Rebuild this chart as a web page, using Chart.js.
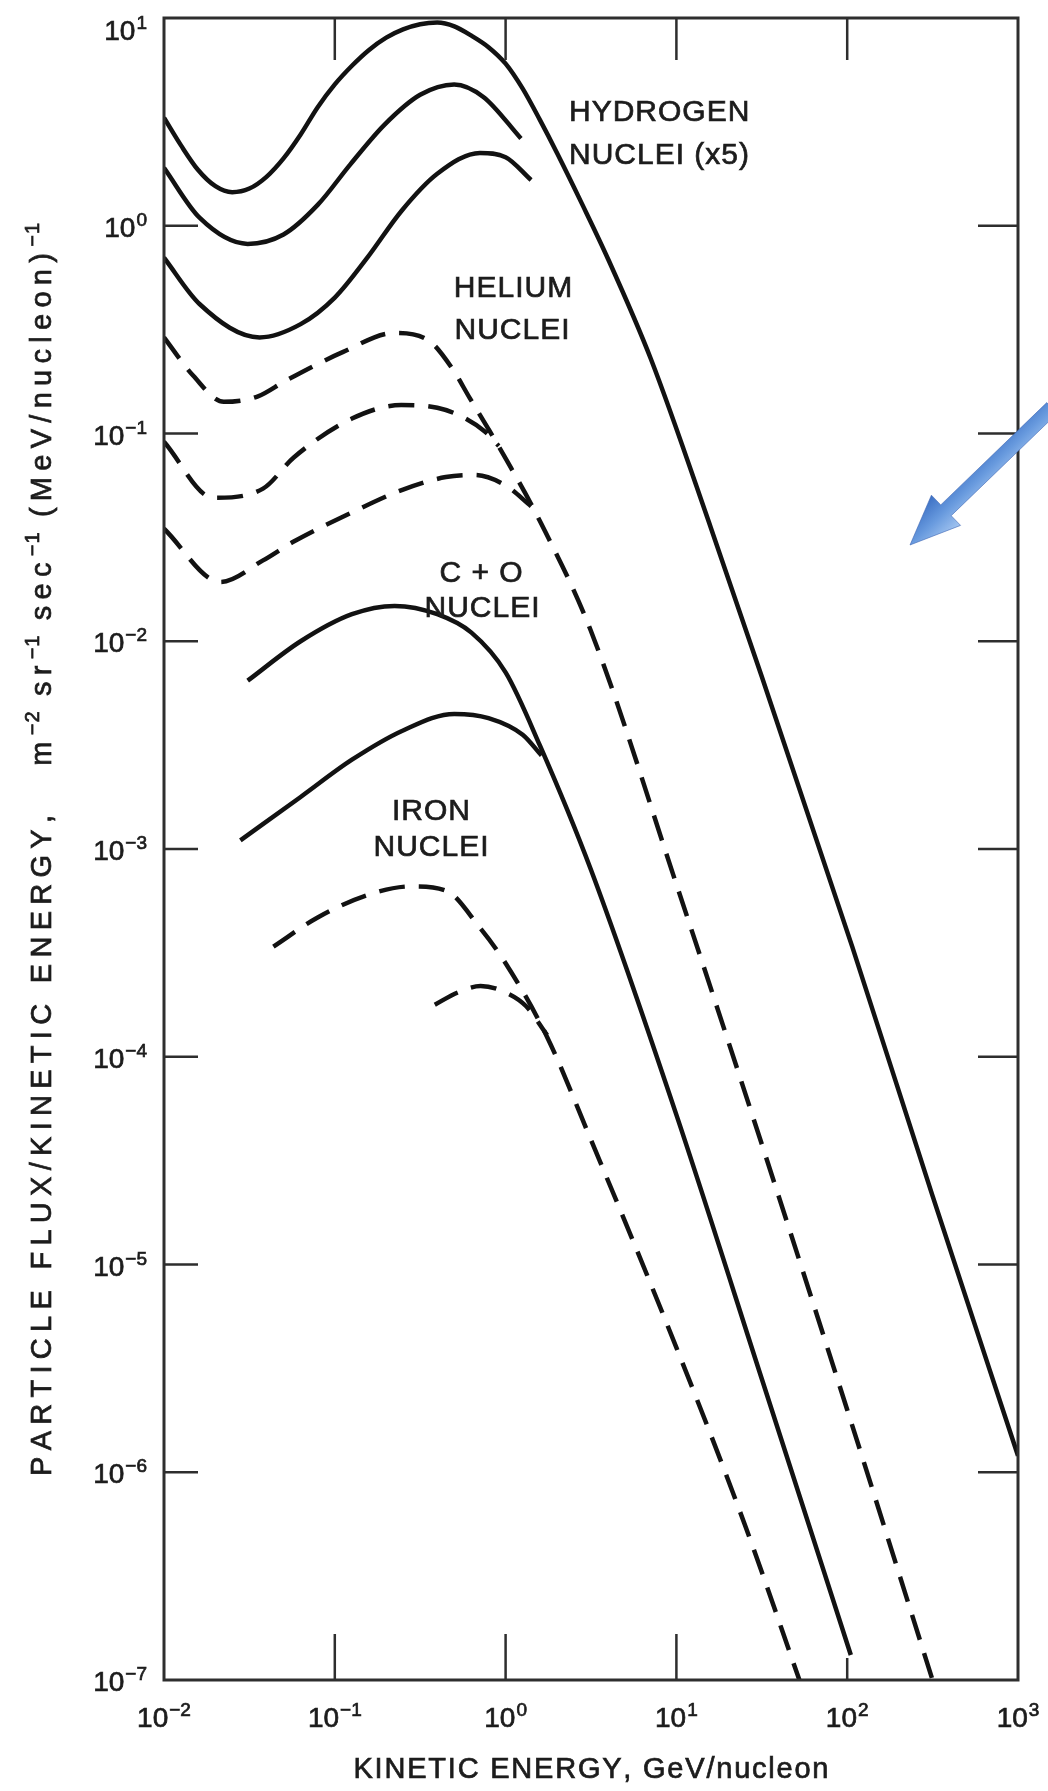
<!DOCTYPE html>
<html>
<head>
<meta charset="utf-8">
<title>Particle flux vs kinetic energy</title>
<script src="https://cdn.jsdelivr.net/npm/chart.js@4.4.1/dist/chart.umd.min.js"></script>
<style>
html,body{margin:0;padding:0;background:#ffffff;}
#wrap{position:relative;width:1048px;height:1791px;}
canvas{display:block;}
</style>
</head>
<body>
<div id="wrap"><canvas id="chart" width="1048" height="1791"></canvas></div>
<script>
// ---------- tick labels (powers of ten) ----------
const xTickExponents = [-2, -1, 0, 1, 2, 3];
const yTickExponents = [1, 0, -1, -2, -3, -4, -5, -6, -7];
const xInnerTickExponents = [-1, 0, 1, 2];
const yInnerTickExponents = [0, -1, -2, -3, -4, -5, -6];

// ---------- texts ----------
const xAxisTitle = 'KINETIC ENERGY, GeV/nucleon';
// [text, isSuperscript]
const yAxisTitleParts = [['PARTICLE FLUX/KINETIC ENERGY,   m', false], ['\u22122', true], [' sr', false], ['\u22121', true], [' sec', false], ['\u22121', true], [' (MeV/nucleon)', false], ['\u22121', true]];
const hydrogenLabel = ['HYDROGEN', 'NUCLEI (x5)'];
const heliumLabel = ['HELIUM', 'NUCLEI'];
const carbonOxygenLabel = ['C + O', 'NUCLEI'];
const ironLabel = ['IRON', 'NUCLEI'];

// ---------- data: kinetic energy (GeV/nucleon) and flux ----------
// Hydrogen nuclei (x5) - solid
const hydrogen1Energy = [0.01, 0.0126, 0.0158, 0.02, 0.0251, 0.0316, 0.0398, 0.0501, 0.0631, 0.0794, 0.1, 0.126, 0.158, 0.2, 0.251, 0.316, 0.398, 0.501, 0.631, 0.794, 1.0, 1.259, 1.585, 2.0, 2.82, 3.98, 7.08, 15.85, 31.6, 107, 316, 1000];
const hydrogen1Flux   = [3.31, 2.43, 1.86, 1.55, 1.45, 1.51, 1.72, 2.11, 2.75, 3.72, 4.79, 5.89, 7.0, 8.04, 8.81, 9.33, 9.51, 9.12, 8.22, 7.24, 6.03, 4.57, 3.24, 2.24, 1.26, 0.692, 0.229, 0.0355, 0.00676, 3.39e-4, 2.14e-5, 1.20e-6];
const hydrogen2Energy = [0.01, 0.0162, 0.0309, 0.0501, 0.0794, 0.123, 0.195, 0.316, 0.50, 0.741, 1.23];
const hydrogen2Flux   = [1.90, 1.09, 0.818, 0.908, 1.26, 1.97, 3.06, 4.27, 4.79, 4.17, 2.63];
const hydrogen3Energy = [0.01, 0.0162, 0.0363, 0.0631, 0.1, 0.155, 0.245, 0.398, 0.708, 1.0, 1.41];
const hydrogen3Flux   = [0.702, 0.419, 0.29, 0.336, 0.451, 0.702, 1.175, 1.778, 2.239, 2.138, 1.66];
// Helium nuclei - dashed
const helium1Energy = [0.01, 0.0148, 0.0224, 0.0355, 0.0513, 0.112, 0.224, 0.355, 0.49, 0.617, 0.794, 1.0, 1.585, 3.16, 10, 31.6, 100, 316];
const helium1Flux   = [0.29, 0.19, 0.142, 0.151, 0.179, 0.247, 0.305, 0.28, 0.204, 0.148, 0.105, 0.0759, 0.038, 0.0112, 6.76e-4, 3.80e-5, 2.0e-6, 1.0e-7];
const helium2Energy = [0.01, 0.0195, 0.038, 0.0575, 0.126, 0.245, 0.398, 0.562, 0.759, 0.912];
const helium2Flux   = [0.0912, 0.049, 0.0543, 0.0767, 0.118, 0.137, 0.133, 0.12, 0.102, 0.0871];
const helium3Energy = [0.01, 0.0214, 0.038, 0.0575, 0.126, 0.251, 0.447, 0.661, 1.0, 1.41];
const helium3Flux   = [0.0348, 0.0193, 0.0245, 0.0302, 0.0417, 0.0537, 0.0617, 0.0631, 0.0562, 0.0447];
// C + O nuclei - solid
const carbonOxygen1Energy = [0.0309, 0.0631, 0.126, 0.224, 0.398, 0.631, 1.0, 1.585, 3.16, 10, 31.6, 105];
const carbonOxygen1Flux   = [6.46e-3, 0.01, 0.0135, 0.0148, 0.0135, 0.011, 7.08e-3, 3.16e-3, 7.94e-4, 5.25e-5, 2.82e-6, 1.32e-7];
const carbonOxygen2Energy = [0.028, 0.0631, 0.126, 0.251, 0.501, 0.794, 1.259, 1.622];
const carbonOxygen2Flux   = [1.10e-3, 1.78e-3, 2.69e-3, 3.72e-3, 4.47e-3, 4.27e-3, 3.55e-3, 2.82e-3];
// Iron nuclei - dashed
const iron1Energy = [0.0437, 0.0794, 0.158, 0.282, 0.447, 0.708, 1.0, 1.738, 3.16, 10, 25.1, 52.5];
const iron1Flux   = [3.39e-4, 4.68e-4, 6.03e-4, 6.61e-4, 6.31e-4, 4.17e-4, 2.82e-4, 1.26e-4, 3.98e-5, 3.98e-6, 5.62e-7, 1.0e-7];
const iron2Energy = [0.385, 0.525, 0.714, 1.0, 1.32, 1.75];
const iron2Flux   = [1.78e-4, 2.04e-4, 2.19e-4, 2.04e-4, 1.75e-4, 1.27e-4];

// ---------- helpers ----------
const INK = '#121212';
const TEXT = '#1c1c1c';
const FONT = "'Liberation Sans', Arial, Helvetica, sans-serif";

function series(label, E, F, dashed) {
  return {
    label: label,
    data: E.map((e, i) => ({x: e, y: F[i]})),
    showLine: true,
    borderColor: INK,
    backgroundColor: INK,
    borderWidth: 4.5,
    borderDash: dashed ? [26, 14] : [],
    borderCapStyle: 'butt',
    borderJoinStyle: 'round',
    pointRadius: 0,
    pointHoverRadius: 0,
    fill: false,
    cubicInterpolationMode: 'monotone'
  };
}

function inkText(ctx, t, x, y) {
  ctx.fillText(t, x, y);
  ctx.strokeText(t, x, y);
}
// width of text when every character is followed by `sp` extra pixels
function spacedWidth(ctx, t, sp) {
  let w = 0;
  for (const c of t) w += ctx.measureText(c).width + sp;
  return w;
}
// draws text left-aligned, character by character, returns the end x
function spacedText(ctx, t, x, y, sp) {
  ctx.textAlign = 'left';
  for (const c of t) {
    inkText(ctx, c, x, y);
    x += ctx.measureText(c).width + sp;
  }
  return x;
}

// "10" with a raised exponent; y is the baseline of "10"
function drawPower(ctx, e, x, y, align) {
  const base = '10';
  const ex = String(e).replace('-', '\u2212');
  ctx.font = '28px ' + FONT;
  const wb = ctx.measureText(base).width;
  ctx.font = '19px ' + FONT;
  const we = ctx.measureText(ex).width;
  const total = wb + 1 + we;
  const x0 = align === 'right' ? x - total : x - total / 2;
  ctx.textAlign = 'left';
  ctx.textBaseline = 'alphabetic';
  ctx.font = '28px ' + FONT;
  inkText(ctx, base, x0, y);
  ctx.font = '19px ' + FONT;
  inkText(ctx, ex, x0 + wb + 1, y - 11);
}

function drawArrow(ctx, x1, y1, x2, y2) {
  const dx = x2 - x1, dy = y2 - y1, L = Math.hypot(dx, dy);
  const ux = dx / L, uy = dy / L, px = -uy, py = ux;
  const hw = 7.5, HW = 21, HL = 50;
  const bx = x2 - ux * HL, by = y2 - uy * HL;
  ctx.save();
  const g = ctx.createLinearGradient(bx + px * HW, by + py * HW, bx - px * HW, by - py * HW);
  g.addColorStop(0, '#3c70c4');
  g.addColorStop(0.5, '#689ade');
  g.addColorStop(1, '#a3c5f0');
  ctx.fillStyle = g;
  ctx.beginPath();
  ctx.moveTo(x1 + px * hw, y1 + py * hw);
  ctx.lineTo(bx + px * hw, by + py * hw);
  ctx.lineTo(bx + px * HW, by + py * HW);
  ctx.lineTo(x2, y2);
  ctx.lineTo(bx - px * HW, by - py * HW);
  ctx.lineTo(bx - px * hw, by - py * hw);
  ctx.lineTo(x1 - px * hw, y1 - py * hw);
  ctx.closePath();
  ctx.fill();
  ctx.strokeStyle = 'rgba(55,95,175,0.55)';
  ctx.lineWidth = 1;
  ctx.stroke();
  ctx.restore();
}

// ---------- decoration plugin: frame, inner ticks, labels, titles, arrow ----------
const decorPlugin = {
  id: 'decor',
  afterDraw(chart) {
    const ctx = chart.ctx;
    const xs = chart.scales.x, ys = chart.scales.y;
    const a = chart.chartArea;
    ctx.save();
    ctx.setLineDash([]);
    // frame
    ctx.strokeStyle = '#2e2e2e';
    ctx.lineWidth = 3;
    ctx.strokeRect(a.left, a.top, a.right - a.left, a.bottom - a.top);
    // inner ticks
    ctx.lineWidth = 2.5;
    ctx.beginPath();
    xInnerTickExponents.forEach(e => {
      const px = xs.getPixelForValue(Math.pow(10, e));
      ctx.moveTo(px, a.bottom); ctx.lineTo(px, a.bottom - (e === 2 ? 22 : 46));
      ctx.moveTo(px, a.top); ctx.lineTo(px, a.top + 42);
    });
    yInnerTickExponents.forEach(e => {
      const py = ys.getPixelForValue(Math.pow(10, e));
      ctx.moveTo(a.left, py); ctx.lineTo(a.left + 34, py);
      ctx.moveTo(a.right, py); ctx.lineTo(a.right - 40, py);
    });
    ctx.stroke();

    // tick labels
    ctx.fillStyle = TEXT;
    ctx.strokeStyle = TEXT;
    ctx.lineWidth = 0.7;
    ys.ticks.forEach(t => {
      const py = ys.getPixelForValue(t.value);
      drawPower(ctx, Math.round(Math.log10(t.value)), a.left - 17, Math.max(py + 11, a.top + 22), 'right');
    });
    xs.ticks.forEach(t => {
      const px = xs.getPixelForValue(t.value);
      drawPower(ctx, Math.round(Math.log10(t.value)), px, 1727, 'center');
    });

    // curve labels
    ctx.textBaseline = 'middle';
    ctx.font = '30px ' + FONT;
    const lab = (t, x, y, center) => {
      const w = spacedWidth(ctx, t, 1) - 1;
      spacedText(ctx, t, center ? x - w / 2 : x, y, 1);
    };
    lab(hydrogenLabel[0], 569, 113, false);
    lab(hydrogenLabel[1], 569, 156, false);
    lab(heliumLabel[0], 513, 289, true);
    lab(heliumLabel[1], 512, 331, true);
    lab(carbonOxygenLabel[0], 481, 574, true);
    lab(carbonOxygenLabel[1], 482, 609, true);
    lab(ironLabel[0], 431, 812, true);
    lab(ironLabel[1], 431, 848, true);

    // x axis title, fitted to the width it takes in the figure (475 px)
    ctx.font = '29px ' + FONT;
    ctx.textBaseline = 'middle';
    const natX = spacedWidth(ctx, xAxisTitle, 0);
    const spX = Math.max(0, (475 - natX) / (xAxisTitle.length - 1));
    const wX = natX + spX * (xAxisTitle.length - 1);
    spacedText(ctx, xAxisTitle, (a.left + a.right) / 2 - wX / 2, 1770, spX);

    // y axis title (rotated, with superscripts), fitted to its length in the figure (1254 px)
    const big = '29px ' + FONT, small = '20px ' + FONT;
    const supSp = 1;
    let natural = 0, nChars = 0;
    yAxisTitleParts.forEach(([t, sup]) => {
      ctx.font = sup ? small : big;
      natural += spacedWidth(ctx, t, sup ? supSp : 0);
      if (!sup) nChars += t.length;
    });
    const sp = Math.max(0, (1254 - natural) / nChars);
    const total = natural + sp * nChars;
    ctx.save();
    ctx.translate(51, (a.top + a.bottom) / 2);
    ctx.rotate(-Math.PI / 2);
    ctx.textBaseline = 'alphabetic';
    let cx = -total / 2;
    yAxisTitleParts.forEach(([t, sup]) => {
      ctx.font = sup ? small : big;
      cx = spacedText(ctx, t, cx, sup ? -12 : 0, sup ? supSp : sp);
    });
    ctx.restore();
    ctx.restore();

    // blue arrow annotation
    drawArrow(ctx, 1052, 408, 910, 545);
  }
};

const chart = new Chart(document.getElementById('chart'), {
  type: 'scatter',
  data: {
    datasets: [
      series('Hydrogen nuclei (x5), 1', hydrogen1Energy, hydrogen1Flux, false),
      series('Hydrogen nuclei (x5), 2', hydrogen2Energy, hydrogen2Flux, false),
      series('Hydrogen nuclei (x5), 3', hydrogen3Energy, hydrogen3Flux, false),
      series('Helium nuclei, 1', helium1Energy, helium1Flux, true),
      series('Helium nuclei, 2', helium2Energy, helium2Flux, true),
      series('Helium nuclei, 3', helium3Energy, helium3Flux, true),
      series('C + O nuclei, 1', carbonOxygen1Energy, carbonOxygen1Flux, false),
      series('C + O nuclei, 2', carbonOxygen2Energy, carbonOxygen2Flux, false),
      series('Iron nuclei, 1', iron1Energy, iron1Flux, true),
      series('Iron nuclei, 2', iron2Energy, iron2Flux, true)
    ]
  },
  options: {
    responsive: false,
    animation: false,
    devicePixelRatio: 1,
    events: [],
    layout: {padding: {left: 0, right: 30, top: 18, bottom: 0}},
    plugins: {legend: {display: false}, tooltip: {enabled: false}},
    scales: {
      x: {
        type: 'logarithmic',
        position: 'bottom',
        min: 0.01,
        max: 1000,
        grid: {display: false, drawTicks: false},
        border: {display: false},
        afterBuildTicks: s => { s.ticks = xTickExponents.map(e => ({value: Math.pow(10, e)})); },
        afterFit: s => { s.height = 111; },
        ticks: {display: false, autoSkip: false}
      },
      y: {
        type: 'logarithmic',
        position: 'left',
        min: 1e-7,
        max: 10,
        grid: {display: false, drawTicks: false},
        border: {display: false},
        afterBuildTicks: s => { s.ticks = yTickExponents.map(e => ({value: Math.pow(10, e)})); },
        afterFit: s => { s.width = 164; },
        ticks: {display: false, autoSkip: false}
      }
    }
  },
  plugins: [decorPlugin]
});
</script>
</body>
</html>
